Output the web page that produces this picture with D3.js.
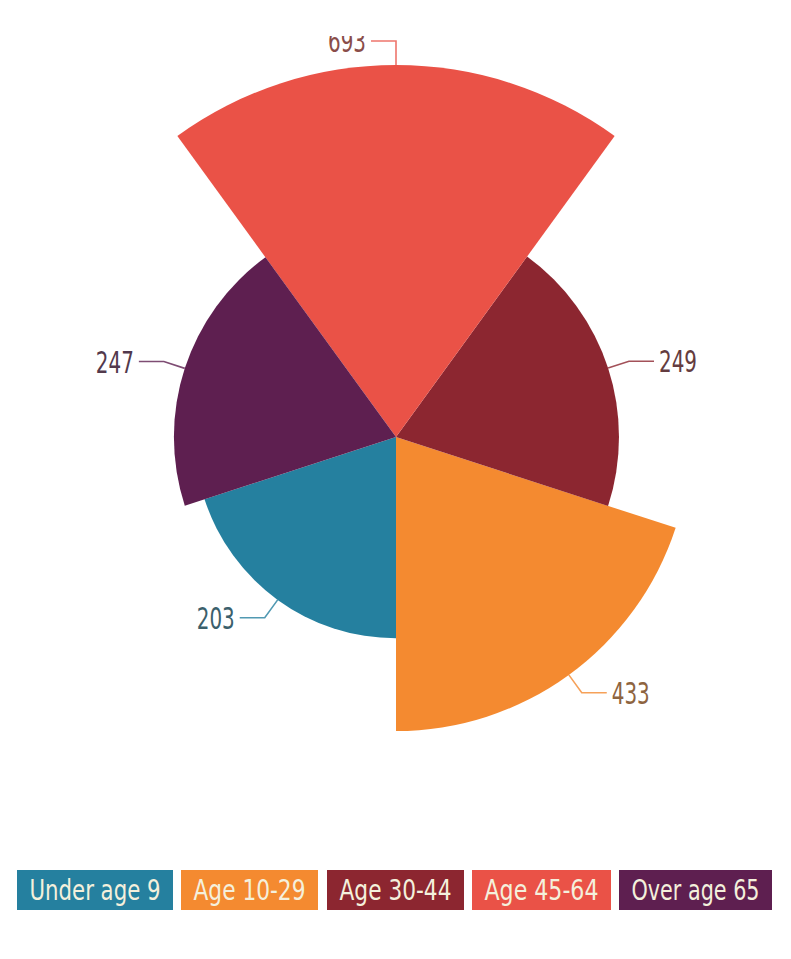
<!DOCTYPE html>
<html>
<head>
<meta charset="utf-8">
<script src="https://cdn.jsdelivr.net/npm/d3@7"></script>
<style>
  html, body { margin: 0; padding: 0; background: #ffffff; }
  svg { display: block; }
  .fnt { font-family: "Liberation Sans Narrow", "Arial Narrow", "DejaVu Sans Condensed", sans-serif; }
</style>
</head>
<body>
<script>
// ---- data ----
const categories = ["Under age 9", "Age 10-29", "Age 30-44", "Age 45-64", "Over age 65"];
const values = [203, 433, 249, 693, 247];
const colors = ["#25809f", "#f48a30", "#8c2630", "#ea5247", "#5e1f50"];
// slice start angles (degrees clockwise from 12 o'clock), each slice spans 72 degrees counter-clockwise
const sliceStartDeg = [252, 180, 108, 36, 324];

const W = 791, H = 959;
const cx = 396, cy = 437;

const svg = d3.select("body").append("svg")
  .attr("width", W).attr("height", H)
  .attr("class", "fnt");

svg.append("rect").attr("width", W).attr("height", H).attr("fill", "#ffffff");

const rScale = d3.scaleSqrt().domain([0, d3.max(values)]).range([0, 372]);

const slices = categories.map((c, i) => {
  const s = sliceStartDeg[i] * Math.PI / 180;
  return {
    cat: c, value: values[i], color: colors[i],
    startAngle: s - 72 * Math.PI / 180, endAngle: s,
    r: rScale(values[i])
  };
});

const g = svg.append("g").attr("transform", `translate(${cx},${cy})`);

const arc = d3.arc().innerRadius(0).outerRadius(d => d.r)
  .startAngle(d => d.startAngle).endAngle(d => d.endAngle);

g.selectAll("path.slice").data(slices).enter().append("path")
  .attr("class", "slice")
  .attr("d", arc)
  .attr("fill", d => d.color);

// clip for labels (top of page is cut in the reference)
svg.append("clipPath").attr("id", "lblclip")
  .append("rect").attr("x", -cx).attr("y", 36 - cy).attr("width", W).attr("height", H);

const lg = g.append("g").attr("clip-path", "url(#lblclip)");

slices.forEach(d => {
  const mid = (d.startAngle + d.endAngle) / 2;
  const sx = Math.sin(mid), sy = -Math.cos(mid);
  const p0 = [d.r * sx, d.r * sy];
  const ext = Math.abs(sx) < 0.01 ? 24 : 22;
  const p1 = [(d.r + ext) * sx, (d.r + ext) * sy];
  const dir = sx > 0.01 ? 1 : -1;
  const p2 = [p1[0] + dir * 25, p1[1]];
  const lineCol = d3.interpolateRgb(d.color, "#ffffff")(0.2);
  lg.append("path")
    .attr("d", d3.line()([p0, p1, p2]))
    .attr("fill", "none")
    .attr("stroke", lineCol)
    .attr("stroke-width", 1.6);
  lg.append("text")
    .attr("x", p2[0] + dir * 5)
    .attr("y", p2[1])
    .attr("dy", "0.36em")
    .attr("text-anchor", dir > 0 ? "start" : "end")
    .attr("font-size", 31)
    .attr("textLength", 38)
    .attr("lengthAdjust", "spacingAndGlyphs")
    .attr("fill", d3.interpolateRgb(d.color, "#4a4a4a")(0.6))
    .text(d.value);
});

// ---- legend ----
const boxX = [17, 181, 327, 472, 619];
const boxW = [156, 137, 137, 139, 153];
const pad = 12.5, boxH = 40;
const legend = svg.append("g").attr("transform", "translate(0,870)");
categories.forEach((c, i) => {
  const item = legend.append("g").attr("transform", `translate(${boxX[i]},0)`);
  item.append("rect").attr("height", boxH).attr("width", boxW[i]).attr("fill", colors[i]);
  item.append("text")
    .attr("x", pad).attr("y", boxH / 2).attr("dy", "0.36em")
    .attr("font-size", 28)
    .attr("textLength", boxW[i] - 2 * pad)
    .attr("lengthAdjust", "spacingAndGlyphs")
    .attr("fill", "#f4f0dc")
    .text(c);
});
</script>
</body>
</html>
